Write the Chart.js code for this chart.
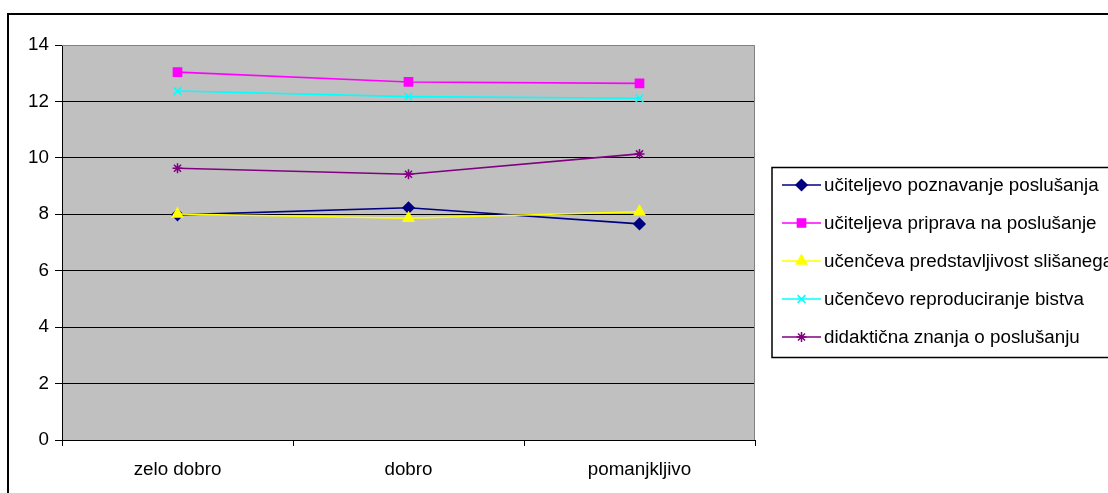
<!DOCTYPE html>
<html>
<head>
<meta charset="utf-8">
<script src="https://cdn.jsdelivr.net/npm/chart.js@4/dist/chart.umd.min.js"></script>
<style>
  html, body { margin: 0; padding: 0; background: #fff; overflow: hidden; }
  #wrap { width: 1108px; height: 493px; }
</style>
</head>
<body>
<div id="wrap"><canvas id="chart" width="1108" height="493"></canvas></div>
<script>
const categories = ["zelo dobro", "dobro", "pomanjkljivo"];

const poznavanje = [7.98, 8.23, 7.66];
const priprava = [13.04, 12.69, 12.64];
const predstavljivost = [8.01, 7.86, 8.09];
const reproduciranje = [12.37, 12.17, 12.11];
const didakticna = [9.63, 9.42, 10.14];

const yTicks = [0, 2, 4, 6, 8, 10, 12, 14];

const FONT = { family: "'Liberation Sans', Arial, sans-serif", size: 18.8 };

const makeSeries = (label, data, color, style, radius, order) => ({
  label: label,
  data: data,
  borderColor: color,
  backgroundColor: color,
  borderWidth: 1.6,
  pointStyle: style,
  pointRadius: radius,
  pointBackgroundColor: color,
  pointBorderColor: color,
  pointBorderWidth: 1.5,
  tension: 0,
  order: order,
});

// excel paints later series on top, chart.js paints lowest order last
const datasets = [
  makeSeries("učiteljevo poznavanje poslušanja", poznavanje, "#000080", "rectRot", 5.5, 5),
  makeSeries("učiteljeva priprava na poslušanje", priprava, "#FF00FF", "rect", 5.8, 4),
  makeSeries("učenčeva predstavljivost slišanega", predstavljivost, "#FFFF00", "triangle", 6, 3),
  makeSeries("učenčevo reproduciranje bistva", reproduciranje, "#00FFFF", "crossRot", 5.5, 2),
  makeSeries("didaktična znanja o poslušanju", didakticna, "#800080", "star", 5, 1),
];

const plotFrame = {
  id: "plotFrame",
  beforeDraw(chart) {
    const { ctx, chartArea: a } = chart;
    ctx.save();
    ctx.fillStyle = "#C0C0C0";
    ctx.fillRect(a.left, a.top, a.right - a.left, a.bottom - a.top);
    ctx.restore();
  },
  beforeDatasetsDraw(chart) {
    const { ctx, chartArea: a } = chart;
    ctx.save();
    ctx.strokeStyle = "#808080";
    ctx.lineWidth = 1;
    ctx.beginPath();
    ctx.moveTo(a.left, a.top + 0.5);
    ctx.lineTo(a.right - 0.5, a.top + 0.5);
    ctx.lineTo(a.right - 0.5, a.bottom);
    ctx.stroke();
    ctx.restore();
  },
  afterDraw(chart) {
    const ctx = chart.ctx;
    ctx.save();
    // outer chart border (runs off the right and bottom edge)
    ctx.strokeStyle = "#000";
    ctx.lineWidth = 2;
    ctx.strokeRect(8, 14, 1200, 600);

    // legend box
    ctx.lineWidth = 1.5;
    ctx.strokeRect(772, 167.5, 400, 190);
    chart.data.datasets.forEach((ds, i) => {
      const y = 185 + i * 38;
      ctx.strokeStyle = ds.borderColor;
      ctx.lineWidth = 1.6;
      ctx.beginPath();
      ctx.moveTo(782, y);
      ctx.lineTo(821, y);
      ctx.stroke();
      ctx.fillStyle = ds.pointBackgroundColor;
      ctx.strokeStyle = ds.pointBorderColor;
      ctx.lineWidth = ds.pointBorderWidth;
      Chart.helpers.drawPoint(
        ctx,
        { pointStyle: ds.pointStyle, radius: ds.pointRadius, rotation: 0, borderWidth: ds.pointBorderWidth },
        801.5,
        y
      );
      ctx.fillStyle = "#000";
      ctx.font = FONT.size + "px " + FONT.family;
      ctx.textBaseline = "middle";
      ctx.textAlign = "left";
      ctx.fillText(ds.label, 824, y + 1);
    });
    ctx.restore();
  },
};

new Chart(document.getElementById("chart"), {
  type: "line",
  data: { labels: categories, datasets: datasets },
  options: {
    responsive: false,
    animation: false,
    devicePixelRatio: 1,
    layout: { padding: { top: 45, right: 353, bottom: 0, left: 0 } },
    plugins: { legend: { display: false }, tooltip: { enabled: false } },
    scales: {
      x: {
        offset: true,
        grid: { offset: true, drawOnChartArea: false, drawTicks: true, tickLength: 6, color: "#000" },
        border: { color: "#000", width: 1 },
        ticks: { color: "#000", font: FONT, padding: 13, maxRotation: 0 },
        afterFit(scale) { scale.height = 53; },
      },
      y: {
        min: 0,
        max: 14,
        afterBuildTicks(scale) { scale.ticks = yTicks.map((v) => ({ value: v })); },
        grid: {
          color: (c) => (c.tick && c.tick.value === 14 ? "rgba(0,0,0,0)" : "#000"),
          tickColor: "#000",
          tickLength: 7,
        },
        border: { color: "#000", width: 1 },
        ticks: { color: "#000", font: FONT, padding: 6 },
        afterFit(scale) { scale.width = 62; },
      },
    },
  },
  plugins: [plotFrame],
});
</script>
</body>
</html>
